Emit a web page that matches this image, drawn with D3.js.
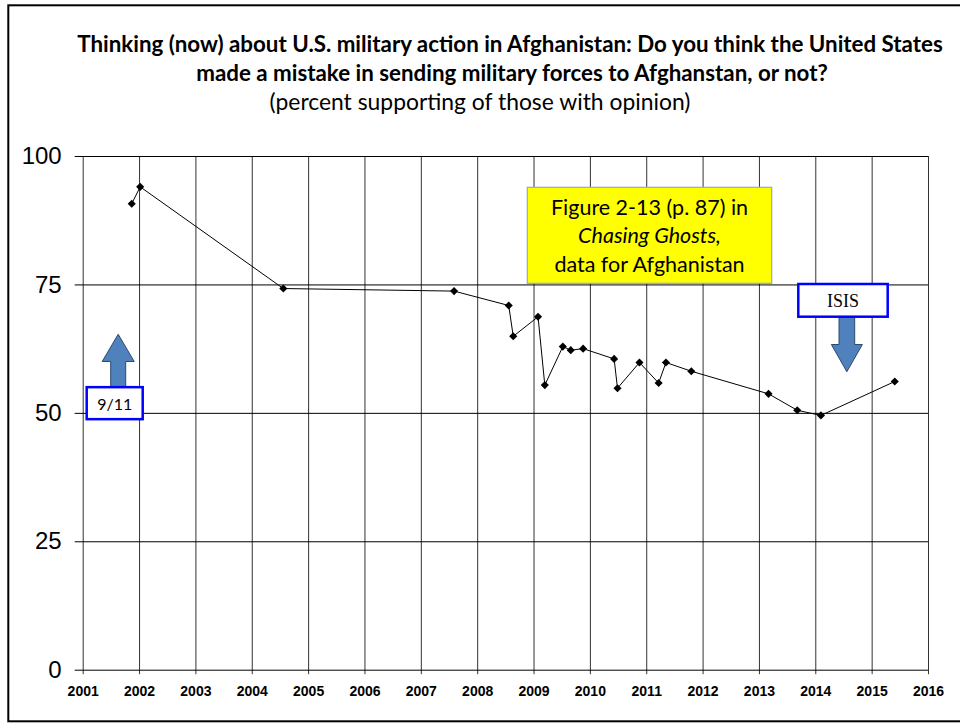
<!DOCTYPE html>
<html>
<head>
<meta charset="utf-8">
<script src="https://cdn.jsdelivr.net/npm/d3@7"></script>
<style>
  body { margin: 0; background: #fff; }
  svg { display: block; }
</style>
</head>
<body>
<div id="chart"></div>
<script>
// survey dates (decimal years) and percent saying "not a mistake"
const surveyDates = [2001.87, 2002.02, 2004.56, 2007.59, 2008.56, 2008.64, 2009.08, 2009.20,
  2009.52, 2009.66, 2009.88, 2010.43, 2010.49, 2010.88, 2011.22, 2011.35, 2011.80,
  2013.17, 2013.68, 2014.10, 2015.41];
const support = [90.7, 94.0, 74.2, 73.7, 70.9, 64.9, 68.7, 55.4,
  62.9, 62.2, 62.5, 60.5, 54.8, 59.8, 55.8, 59.8, 58.1,
  53.7, 50.5, 49.5, 56.1];

const yearTicks = d3.range(2001, 2017);
const yTicks = [0, 25, 50, 75, 100];

const titleLines = [
  "Thinking (now) about U.S. military action in Afghanistan: Do you think the United States",
  "made a mistake in sending military forces to Afghanstan, or not?"
];
const subtitle = "(percent supporting of those with opinion)";
const noteLines = ["Figure 2-13 (p. 87) in", "Chasing Ghosts,", "data for Afghanistan"];

const w = 960, h = 723;
const calibri = "Lato, 'Open Sans', sans-serif";

const svg = d3.select("#chart").append("svg")
  .attr("width", w)
  .attr("height", h);

// scale a text's font so it is about `target` px wide (Calibri is not installed)
function fitWidth(sel, target) {
  const fs = parseFloat(sel.attr("font-size"));
  const len = sel.node().getComputedTextLength();
  sel.attr("font-size", (fs * target / len).toFixed(2));
  return sel;
}

// outer frame
svg.append("rect")
  .attr("x", 8.3).attr("y", 5.3)
  .attr("width", 960).attr("height", 716)
  .attr("fill", "none")
  .attr("stroke", "#000")
  .attr("stroke-width", 2);

// titles (both lines share the size that makes line 1 fit)
const t1 = svg.append("text")
  .attr("x", 510)
  .attr("y", 52)
  .attr("text-anchor", "middle")
  .attr("font-family", calibri)
  .attr("font-weight", "bold")
  .attr("font-size", 20)
  .text(titleLines[0])
  .call(fitWidth, 866);

svg.append("text")
  .attr("x", 512)
  .attr("y", 81)
  .attr("text-anchor", "middle")
  .attr("font-family", calibri)
  .attr("font-weight", "bold")
  .attr("font-size", t1.attr("font-size"))
  .text(titleLines[1]);

svg.append("text")
  .attr("x", 480)
  .attr("y", 110)
  .attr("text-anchor", "middle")
  .attr("font-family", calibri)
  .attr("font-size", 20)
  .text(subtitle)
  .call(fitWidth, 421);

const x = d3.scaleLinear().domain([2001, 2016]).range([82.7, 928]);
const y = d3.scaleLinear().domain([0, 100]).range([669.7, 156]);

// vertical grid (years)
svg.append("g")
  .attr("transform", `translate(0,${y(0)})`)
  .call(d3.axisBottom(x).tickValues(yearTicks).tickFormat(d3.format("d"))
    .tickSize(-(y(0) - y(100))).tickSizeOuter(0))
  .call(g => g.select(".domain").remove())
  .call(g => g.selectAll(".tick line").attr("stroke", "#333").attr("y2", 4.5))
  .call(g => g.selectAll(".tick line").attr("y1", -(y(0) - y(100))))
  .call(g => g.selectAll(".tick text")
    .attr("y", 16)
    .attr("dy", "0.71em")
    .attr("font-family", "'Liberation Sans', Arial, sans-serif")
    .attr("font-weight", "bold")
    .attr("font-size", 14)
    .attr("fill", "#000"));

// horizontal grid
svg.append("g")
  .attr("transform", `translate(${x(2001)},0)`)
  .call(d3.axisLeft(y).tickValues(yTicks).tickSize(-(x(2016) - x(2001))).tickSizeOuter(0))
  .call(g => g.select(".domain").remove())
  .call(g => g.selectAll(".tick line").attr("stroke", "#000").attr("x2", -8))
  .call(g => g.selectAll(".tick line").attr("x1", x(2016) - x(2001)))
  .call(g => g.selectAll(".tick text")
    .attr("x", -21)
    .attr("font-family", "'Liberation Sans', Arial, sans-serif")
    .attr("font-size", 24)
    .attr("fill", "#000"));

// annotation: source note
const note = svg.append("g");
note.append("rect")
  .attr("x", 527.3).attr("y", 187.3)
  .attr("width", 244.4).attr("height", 96)
  .attr("fill", "#ffff00")
  .attr("stroke", "#8eaacb")
  .attr("stroke-width", 1.2);
note.selectAll("text")
  .data(noteLines)
  .join("text")
    .attr("x", 649.5)
    .attr("y", (d, i) => 215 + i * 28.4)
    .attr("text-anchor", "middle")
    .attr("font-family", calibri)
    .attr("font-size", 21.5)
    .attr("font-style", (d, i) => i === 1 ? "italic" : "normal")
    .text(d => d);

// line + markers
const pts = surveyDates.map((d, i) => [d, support[i]]);
svg.append("path")
  .datum(pts)
  .attr("fill", "none")
  .attr("stroke", "#000")
  .attr("stroke-width", 1)
  .attr("d", d3.line().x(d => x(d[0])).y(d => y(d[1])));

svg.selectAll("path.pt")
  .data(pts)
  .join("path")
    .attr("class", "pt")
    .attr("transform", d => `translate(${x(d[0])},${y(d[1])})`)
    .attr("d", d3.symbol(d3.symbolDiamond2, 42))
    .attr("fill", "#000");

// arrows (block shapes)
function blockArrow(cx, tipY, headBaseY, tailY, headW, shaftW) {
  return [
    [cx, tipY], [cx + headW / 2, headBaseY], [cx + shaftW / 2, headBaseY],
    [cx + shaftW / 2, tailY], [cx - shaftW / 2, tailY], [cx - shaftW / 2, headBaseY],
    [cx - headW / 2, headBaseY]
  ];
}

const arrowFill = "#4f81bd";
const arrowStroke = "#2d4a6e";

// 9/11
svg.append("polygon")
  .attr("points", blockArrow(x(2001.63), y(65.3), y(60.0), y(55.0), 32, 15).join(" "))
  .attr("fill", arrowFill).attr("stroke", arrowStroke).attr("stroke-width", 1);
svg.append("rect")
  .attr("x", 86.7).attr("y", y(55.0))
  .attr("width", 56).attr("height", 32)
  .attr("fill", "#fff").attr("stroke", "#0000ff").attr("stroke-width", 2.5);
svg.append("text")
  .attr("x", 114.7).attr("y", y(55.0) + 22.5)
  .attr("text-anchor", "middle")
  .attr("font-family", calibri)
  .attr("font-size", 17)
  .text("9/11")
  .call(fitWidth, 35);

// ISIS
svg.append("polygon")
  .attr("points", blockArrow(x(2014.56), y(58.0), y(63.3), y(68.7), 31, 15.7).join(" "))
  .attr("fill", arrowFill).attr("stroke", arrowStroke).attr("stroke-width", 1);
svg.append("rect")
  .attr("x", 798.3).attr("y", 284)
  .attr("width", 89.4).attr("height", 32.7)
  .attr("fill", "#fff").attr("stroke", "#0000ff").attr("stroke-width", 2.5);
svg.append("text")
  .attr("x", 843).attr("y", 306.7)
  .attr("text-anchor", "middle")
  .attr("font-family", "'Liberation Serif', 'Times New Roman', serif")
  .attr("font-size", 18)
  .text("ISIS");
</script>
</body>
</html>
